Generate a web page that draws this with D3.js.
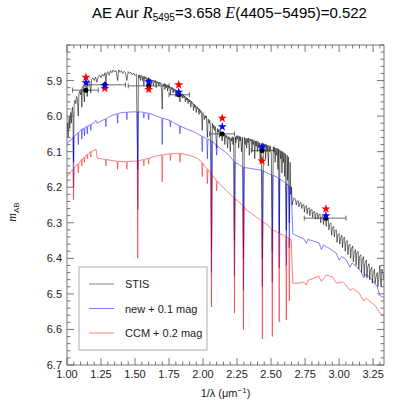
<!DOCTYPE html>
<html><head><meta charset="utf-8">
<script src="https://cdn.jsdelivr.net/npm/d3@7"></script>
<style>body{margin:0;background:#fff;} svg{display:block;}</style>
</head><body>
<script>
// ---------- DATA ----------
const xTicks = [1.00,1.25,1.50,1.75,2.00,2.25,2.50,2.75,3.00,3.25];
const yTicks = [5.9,6.0,6.1,6.2,6.3,6.4,6.5,6.6,6.7];
const legendLabels = ["STIS","new + 0.1 mag","CCM + 0.2 mag"];

const stisData = [[1.000,6.045],[1.004,6.02],[1.008,6.06],[1.012,6.03],[1.016,6.00],[1.020,6.035],[1.024,6.01],[1.028,5.99],[1.032,6.02],[1.036,5.985],[1.040,5.975],[1.044,6.00],[1.048,6.13],[1.052,5.97],[1.058,5.955],[1.064,5.965],[1.070,5.945],[1.076,5.95],[1.083,6.0],[1.088,5.935],[1.094,5.93],[1.100,5.94],[1.105,5.925],[1.109,5.975],[1.113,5.92],[1.120,5.915],[1.128,5.96],[1.133,5.91],[1.140,5.905],[1.149,5.945],[1.154,5.903],[1.162,5.90],[1.168,5.91],[1.175,5.935],[1.18,5.897],[1.19,5.893],[1.20,5.9],[1.21,5.89],[1.22,5.905],[1.23,5.888],[1.24,5.885],[1.25,5.892],[1.26,5.882],[1.27,5.888],[1.28,5.878],[1.286,5.91],[1.292,5.88],[1.30,5.875],[1.31,5.885],[1.32,5.872],[1.33,5.878],[1.34,5.87],[1.35,5.876],[1.36,5.872],[1.372,5.9],[1.38,5.87],[1.39,5.877],[1.40,5.872],[1.41,5.88],[1.42,5.874],[1.43,5.878],[1.44,5.9],[1.45,5.875],[1.46,5.88],[1.47,5.877],[1.48,5.884],[1.49,5.879],[1.50,5.886],[1.51,5.882],[1.52,6.15],[1.525,5.885],[1.53,5.892],[1.535,5.884],[1.54,5.9],[1.545,5.887],[1.55,5.886],[1.555,5.9],[1.56,5.888],[1.565,5.915],[1.57,5.889],[1.575,5.895],[1.58,5.89],[1.585,5.905],[1.59,5.893],[1.595,5.9],[1.60,5.93],[1.605,5.895],[1.61,5.9],[1.615,5.896],[1.62,5.91],[1.625,5.898],[1.63,5.9],[1.635,5.915],[1.64,5.899],[1.645,5.905],[1.65,5.9],[1.655,5.92],[1.66,5.902],[1.665,5.908],[1.67,5.904],[1.675,5.915],[1.68,5.905],[1.685,5.91],[1.69,5.906],[1.695,5.93],[1.70,5.98],[1.705,5.91],[1.71,5.915],[1.715,5.908],[1.72,5.925],[1.725,5.91],[1.73,5.92],[1.735,5.912],[1.74,5.93],[1.745,5.914],[1.75,5.92],[1.755,5.916],[1.76,5.94],[1.765,5.918],[1.77,5.925],[1.775,5.92],[1.78,5.935],[1.785,5.922],[1.79,5.93],[1.795,5.925],[1.80,5.945],[1.805,5.927],[1.81,5.935],[1.815,5.93],[1.82,5.94],[1.825,5.932],[1.83,5.96],[1.835,5.935],[1.84,5.945],[1.845,5.937],[1.85,5.95],[1.855,5.94],[1.86,5.948],[1.865,5.943],[1.87,5.96],[1.875,5.946],[1.88,5.955],[1.885,5.949],[1.89,5.965],[1.895,5.952],[1.90,5.96],[1.905,5.955],[1.91,5.975],[1.915,5.958],[1.92,5.965],[1.925,5.962],[1.93,5.985],[1.935,5.966],[1.94,5.975],[1.945,5.97],[1.95,5.99],[1.955,5.973],[1.96,5.98],[1.965,5.977],[1.97,5.995],[1.975,5.98],[1.98,5.99],[1.985,5.985],[1.99,6.0],[1.994,6.04],[1.998,5.99],[2.005,5.995],[2.01,6.01],[2.015,5.998],[2.02,6.005],[2.025,6.0],[2.032,6.06],[2.038,6.008],[2.045,6.02],[2.05,6.012],[2.055,6.03],[2.062,6.38],[2.068,6.02],[2.075,6.035],[2.08,6.025],[2.085,6.04],[2.09,6.03],[2.095,6.06],[2.10,6.09],[2.105,6.035],[2.11,6.045],[2.115,6.038],[2.12,6.06],[2.125,6.04],[2.13,6.05],[2.135,6.045],[2.14,6.07],[2.145,6.048],[2.15,6.055],[2.155,6.05],[2.16,6.08],[2.165,6.053],[2.17,6.06],[2.175,6.055],[2.18,6.09],[2.185,6.058],[2.19,6.065],[2.195,6.06],[2.2,6.1],[2.205,6.062],[2.21,6.07],[2.215,6.058],[2.22,6.08],[2.225,6.06],[2.231,6.35],[2.237,6.058],[2.242,6.075],[2.247,6.055],[2.252,6.065],[2.257,6.055],[2.262,6.09],[2.267,6.057],[2.272,6.07],[2.277,6.058],[2.282,6.1],[2.29,6.06],[2.297,6.4],[2.304,6.06],[2.31,6.08],[2.315,6.062],[2.32,6.09],[2.325,6.063],[2.33,6.075],[2.335,6.062],[2.34,6.11],[2.345,6.064],[2.35,6.07],[2.355,6.065],[2.36,6.1],[2.365,6.066],[2.37,6.08],[2.375,6.068],[2.38,6.12],[2.385,6.07],[2.39,6.085],[2.395,6.07],[2.40,6.1],[2.405,6.072],[2.41,6.09],[2.415,6.075],[2.42,6.13],[2.428,6.077],[2.436,6.4],[2.444,6.077],[2.45,6.09],[2.455,6.078],[2.46,6.12],[2.465,6.08],[2.47,6.1],[2.475,6.082],[2.48,6.14],[2.485,6.083],[2.49,6.1],[2.495,6.085],[2.502,6.11],[2.509,6.38],[2.516,6.086],[2.52,6.1],[2.525,6.088],[2.53,6.13],[2.535,6.09],[2.54,6.11],[2.545,6.09],[2.55,6.15],[2.555,6.093],[2.56,6.33],[2.565,6.095],[2.57,6.12],[2.575,6.098],[2.58,6.16],[2.585,6.1],[2.59,6.13],[2.595,6.103],[2.6,6.17],[2.605,6.106],[2.612,6.32],[2.618,6.11],[2.622,6.18],[2.627,6.115],[2.634,6.3],[2.64,6.13],[2.645,6.22],[2.65,6.2],[2.655,6.25],[2.66,6.24],[2.67,6.23],[2.68,6.235],[2.685,6.25],[2.69,6.24],[2.70,6.238],[2.705,6.255],[2.71,6.245],[2.72,6.242],[2.725,6.26],[2.73,6.25],[2.74,6.248],[2.745,6.27],[2.75,6.255],[2.76,6.252],[2.765,6.275],[2.77,6.26],[2.78,6.258],[2.785,6.28],[2.79,6.265],[2.80,6.262],[2.805,6.285],[2.81,6.27],[2.82,6.268],[2.825,6.29],[2.83,6.275],[2.84,6.272],[2.845,6.29],[2.85,6.278],[2.86,6.275],[2.865,6.3],[2.87,6.285],[2.88,6.28],[2.885,6.305],[2.89,6.285],[2.90,6.283],[2.905,6.31],[2.91,6.29],[2.92,6.29],[2.925,6.32],[2.93,6.305],[2.94,6.30],[2.945,6.335],[2.95,6.315],[2.96,6.31],[2.965,6.34],[2.97,6.322],[2.98,6.32],[2.985,6.355],[2.99,6.335],[3.00,6.33],[3.005,6.36],[3.01,6.345],[3.02,6.335],[3.025,6.37],[3.03,6.345],[3.04,6.34],[3.045,6.38],[3.05,6.355],[3.06,6.35],[3.065,6.39],[3.07,6.365],[3.08,6.36],[3.085,6.4],[3.09,6.375],[3.10,6.365],[3.105,6.41],[3.11,6.385],[3.12,6.375],[3.125,6.42],[3.13,6.385],[3.14,6.38],[3.145,6.43],[3.15,6.395],[3.16,6.39],[3.165,6.44],[3.17,6.405],[3.18,6.395],[3.185,6.45],[3.19,6.415],[3.20,6.405],[3.205,6.455],[3.21,6.425],[3.22,6.415],[3.225,6.46],[3.23,6.435],[3.24,6.425],[3.245,6.47],[3.25,6.445],[3.26,6.43],[3.265,6.47],[3.27,6.455],[3.28,6.44],[3.285,6.48],[3.29,6.46],[3.30,6.42],[3.305,6.47],[3.31,6.48],[3.315,6.43],[3.32,6.44],[3.33,6.46]];

const newData = [[1.00,6.078],[1.02,6.07],[1.04,6.062],[1.044,6.06],[1.048,6.20],[1.052,6.058],[1.07,6.05],[1.079,6.047],[1.083,6.08],[1.087,6.045],[1.10,6.04],[1.105,6.038],[1.109,6.065],[1.113,6.036],[1.124,6.034],[1.128,6.055],[1.132,6.032],[1.145,6.029],[1.149,6.05],[1.153,6.028],[1.171,6.024],[1.175,6.04],[1.179,6.023],[1.20,6.018],[1.212,6.012],[1.22,6.02],[1.25,6.014],[1.282,6.008],[1.286,6.03],[1.29,6.007],[1.31,6.002],[1.34,5.997],[1.368,5.993],[1.372,6.02],[1.376,5.993],[1.40,5.99],[1.436,5.989],[1.44,6.01],[1.444,5.989],[1.48,5.988],[1.516,5.988],[1.52,6.262],[1.524,5.988],[1.561,5.989],[1.565,6.005],[1.569,5.99],[1.596,5.992],[1.60,6.01],[1.604,5.992],[1.64,5.997],[1.67,6.002],[1.696,6.005],[1.70,6.08],[1.704,6.006],[1.73,6.009],[1.756,6.012],[1.76,6.03],[1.764,6.013],[1.79,6.02],[1.826,6.027],[1.83,6.05],[1.834,6.028],[1.86,6.033],[1.89,6.038],[1.92,6.042],[1.95,6.048],[1.99,6.056],[1.994,6.1],[1.998,6.057],[2.028,6.064],[2.032,6.12],[2.036,6.065],[2.058,6.068],[2.062,6.44],[2.066,6.07],[2.08,6.075],[2.096,6.081],[2.10,6.11],[2.104,6.083],[2.13,6.092],[2.16,6.1],[2.19,6.11],[2.227,6.128],[2.231,6.45],[2.235,6.13],[2.26,6.135],[2.293,6.144],[2.297,6.49],[2.301,6.145],[2.33,6.146],[2.36,6.148],[2.39,6.15],[2.432,6.152],[2.436,6.48],[2.44,6.153],[2.47,6.16],[2.505,6.166],[2.509,6.467],[2.513,6.167],[2.538,6.17],[2.556,6.176],[2.56,6.427],[2.564,6.177],[2.59,6.183],[2.608,6.19],[2.612,6.42],[2.616,6.191],[2.63,6.195],[2.634,6.37],[2.638,6.197],[2.648,6.205],[2.66,6.33],[2.68,6.335],[2.707,6.34],[2.74,6.345],[2.76,6.358],[2.77,6.347],[2.80,6.35],[2.83,6.354],[2.853,6.357],[2.87,6.375],[2.885,6.362],[2.92,6.37],[2.95,6.378],[2.978,6.385],[3.0,6.405],[3.02,6.395],[3.05,6.403],[3.08,6.425],[3.095,6.413],[3.13,6.425],[3.16,6.436],[3.18,6.455],[3.20,6.445],[3.22,6.452],[3.25,6.465],[3.28,6.48],[3.30,6.505],[3.33,6.51]];

const ccmData = [[1.00,6.171],[1.02,6.16],[1.044,6.15],[1.048,6.235],[1.052,6.148],[1.06,6.142],[1.079,6.134],[1.083,6.16],[1.087,6.132],[1.10,6.125],[1.105,6.122],[1.109,6.14],[1.113,6.12],[1.124,6.116],[1.128,6.13],[1.132,6.114],[1.145,6.108],[1.149,6.12],[1.153,6.107],[1.171,6.1],[1.175,6.115],[1.179,6.099],[1.19,6.097],[1.205,6.095],[1.214,6.094],[1.222,6.118],[1.25,6.12],[1.282,6.122],[1.286,6.14],[1.29,6.122],[1.33,6.125],[1.368,6.127],[1.372,6.15],[1.376,6.127],[1.40,6.128],[1.436,6.128],[1.44,6.15],[1.444,6.128],[1.48,6.127],[1.516,6.126],[1.52,6.40],[1.524,6.126],[1.561,6.122],[1.565,6.14],[1.569,6.122],[1.596,6.118],[1.60,6.135],[1.604,6.118],[1.64,6.114],[1.68,6.11],[1.696,6.109],[1.70,6.185],[1.704,6.109],[1.72,6.108],[1.756,6.106],[1.76,6.125],[1.764,6.106],[1.80,6.105],[1.826,6.105],[1.83,6.13],[1.834,6.105],[1.85,6.106],[1.88,6.109],[1.92,6.113],[1.95,6.117],[1.974,6.123],[1.99,6.13],[1.994,6.17],[1.998,6.132],[2.01,6.14],[2.028,6.148],[2.032,6.19],[2.036,6.15],[2.058,6.163],[2.062,6.537],[2.066,6.166],[2.08,6.172],[2.096,6.18],[2.10,6.21],[2.104,6.183],[2.12,6.19],[2.16,6.205],[2.2,6.22],[2.227,6.23],[2.231,6.554],[2.235,6.232],[2.26,6.24],[2.293,6.253],[2.297,6.60],[2.301,6.255],[2.319,6.264],[2.36,6.275],[2.40,6.286],[2.432,6.295],[2.436,6.627],[2.44,6.297],[2.47,6.305],[2.505,6.318],[2.509,6.62],[2.513,6.32],[2.54,6.325],[2.556,6.33],[2.56,6.579],[2.564,6.331],[2.59,6.335],[2.608,6.339],[2.612,6.573],[2.616,6.34],[2.63,6.342],[2.634,6.52],[2.638,6.344],[2.648,6.35],[2.66,6.47],[2.707,6.47],[2.74,6.466],[2.76,6.475],[2.77,6.462],[2.80,6.458],[2.85,6.45],[2.87,6.465],[2.905,6.447],[2.95,6.452],[2.98,6.47],[3.022,6.466],[3.05,6.475],[3.08,6.49],[3.10,6.485],[3.147,6.497],[3.18,6.52],[3.2,6.512],[3.242,6.526],[3.27,6.535],[3.30,6.555],[3.33,6.56]];

const photX    = [1.139,1.278,1.601,1.821,2.141,2.434,2.903];
const photXlo  = [1.04,1.14,1.45,1.75,2.048,2.355,2.744];
const photXhi  = [1.23,1.43,1.75,1.90,2.231,2.524,3.051];
const photObs  = [5.927,5.912,5.915,5.940,6.050,6.097,6.287];
const photErr  = [0.005,0.005,0.005,0.005,0.006,0.006,0.007];
const photNew  = [5.906,5.914,5.903,5.933,6.030,6.086,6.280];
const photCCM  = [5.891,5.922,5.925,5.912,6.006,6.126,6.261];

// ---------- LAYOUT ----------
const W = 407, H = 407;
const L = 67, R = 384, T = 45, B = 365;
const svg = d3.select("body").append("svg").attr("width", W).attr("height", H);
svg.append("rect").attr("width", W).attr("height", H).attr("fill", "#fff");

const x = d3.scaleLinear().domain([1.0, 3.33]).range([L, R]);
const y = d3.scaleLinear().domain([5.80, 6.70]).range([T, B]);
const font = "'Liberation Sans', Arial, Helvetica, sans-serif";
const serif = "'Liberation Serif', 'Times New Roman', serif";

svg.append("defs").append("clipPath").attr("id","clip")
  .append("rect").attr("x", L).attr("y", T).attr("width", R-L).attr("height", B-T);
const plot = svg.append("g").attr("clip-path","url(#clip)");

const line = d3.line().x(d => x(d[0])).y(d => y(d[1]));
plot.append("path").datum(stisData).attr("d", line).attr("fill","none").attr("stroke","#000").attr("stroke-width",0.55);
plot.append("path").datum(newData).attr("d", line).attr("fill","none").attr("stroke","#0000ff").attr("stroke-width",0.5);
plot.append("path").datum(ccmData).attr("d", line).attr("fill","none").attr("stroke","#ff0000").attr("stroke-width",0.5);

// photometry
const pg = svg.append("g");
photX.forEach((v,i) => {
  pg.append("line").attr("x1", x(photXlo[i])).attr("x2", x(photXhi[i])).attr("y1", y(photObs[i])).attr("y2", y(photObs[i]))
    .attr("stroke","#444").attr("stroke-width",0.8);
  [photXlo[i], photXhi[i]].forEach(e => pg.append("line").attr("x1", x(e)).attr("x2", x(e))
    .attr("y1", y(photObs[i])-2.5).attr("y2", y(photObs[i])+2.5).attr("stroke","#444").attr("stroke-width",0.8));
  pg.append("line").attr("x1", x(v)).attr("x2", x(v)).attr("y1", y(photObs[i]-photErr[i])).attr("y2", y(photObs[i]+photErr[i]))
    .attr("stroke","#444").attr("stroke-width",0.8);
  pg.append("circle").attr("cx", x(v)).attr("cy", y(photObs[i])).attr("r", 2.5).attr("fill","#000");
});
const star = d3.symbol().type(d3.symbolStar).size(26);
pg.selectAll(".sr").data(photX).enter().append("path").attr("d", star)
  .attr("transform", (d,i) => `translate(${x(d)},${y(photCCM[i])})`).attr("fill","#ff0000");
pg.selectAll(".sb").data(photX).enter().append("path").attr("d", star)
  .attr("transform", (d,i) => `translate(${x(d)},${y(photNew[i])})`).attr("fill","#0000ff");

// frame & ticks
const axColor = "#555";
svg.append("rect").attr("x", L).attr("y", T).attr("width", R-L).attr("height", B-T)
  .attr("fill","none").attr("stroke", axColor).attr("stroke-width", 0.8);
const xMinor = d3.range(0, 47).map(i => 1.0 + i*0.05).filter(v => v <= 3.33);
const yMinor = d3.range(0, 46).map(i => 5.80 + i*0.02).filter(v => v <= 6.7001);
const tg = svg.append("g").attr("stroke", axColor).attr("stroke-width", 0.8);
xMinor.forEach(v => {
  const major = xTicks.some(t => Math.abs(t - v) < 1e-6);
  const len = major ? 7 : 3.5;
  tg.append("line").attr("x1", x(v)).attr("x2", x(v)).attr("y1", B).attr("y2", B-len);
  tg.append("line").attr("x1", x(v)).attr("x2", x(v)).attr("y1", T).attr("y2", T+len);
});
yMinor.forEach(v => {
  const major = yTicks.some(t => Math.abs(t - v) < 1e-6);
  const len = major ? 7 : 3.5;
  tg.append("line").attr("y1", y(v)).attr("y2", y(v)).attr("x1", L).attr("x2", L+len);
  tg.append("line").attr("y1", y(v)).attr("y2", y(v)).attr("x1", R).attr("x2", R-len);
});
// tick labels
svg.append("g").selectAll("text").data(xTicks).enter().append("text")
  .attr("x", d => x(d)).attr("y", B+13).attr("text-anchor","middle")
  .attr("font-family", font).attr("font-size", 11).attr("fill","#222").text(d => d.toFixed(2));
svg.append("g").selectAll("text").data(yTicks).enter().append("text")
  .attr("x", L-5).attr("y", d => y(d)+4).attr("text-anchor","end")
  .attr("font-family", font).attr("font-size", 11).attr("fill","#222").text(d => d.toFixed(1));

// axis titles
const xl = svg.append("text").attr("x", (L+R)/2).attr("y", 397).attr("text-anchor","middle")
  .attr("font-family", font).attr("font-size", 11).attr("fill","#222");
xl.append("tspan").text("1/λ (μm");
xl.append("tspan").attr("font-size", 8).attr("dy", -4).text("−1");
xl.append("tspan").attr("dy", 4).text(")");

const yl = svg.append("text").attr("transform", "translate(16,212) rotate(-90)").attr("text-anchor","middle")
  .attr("font-family", font).attr("font-size", 11).attr("fill","#222");
yl.append("tspan").attr("font-family", serif).attr("font-style","italic").attr("font-size", 12).text("m");
yl.append("tspan").attr("font-size", 8).attr("dy", 3).text("AB");

// title
const tt = svg.append("text").attr("x", 92).attr("y", 18).attr("font-family", font).attr("font-size", 15).attr("fill","#000");
tt.append("tspan").text("AE Aur ");
tt.append("tspan").attr("font-family", serif).attr("font-style","italic").attr("font-size", 16).text("R");
tt.append("tspan").attr("font-size", 10).attr("dy", 3).text("5495");
tt.append("tspan").attr("dy", -3).text("=3.658 ");
tt.append("tspan").attr("font-family", serif).attr("font-style","italic").attr("font-size", 16).text("E");
tt.append("tspan").text("(4405−5495)=0.522");

// legend
const lg = svg.append("g");
lg.append("rect").attr("x", 79).attr("y", 267).attr("width", 128).attr("height", 83)
  .attr("fill","#fff").attr("stroke","#999").attr("stroke-width",0.8);
const legColors = ["#000","#0000ff","#ff0000"];
legendLabels.forEach((t,i) => {
  const yy = 284 + i*24.5;
  lg.append("line").attr("x1", 89).attr("x2", 114).attr("y1", yy).attr("y2", yy)
    .attr("stroke", legColors[i]).attr("stroke-width", 0.5);
  lg.append("text").attr("x", 125).attr("y", yy+4).attr("font-family", font).attr("font-size", 11)
    .attr("fill","#222").text(t);
});
</script>
</body></html>
